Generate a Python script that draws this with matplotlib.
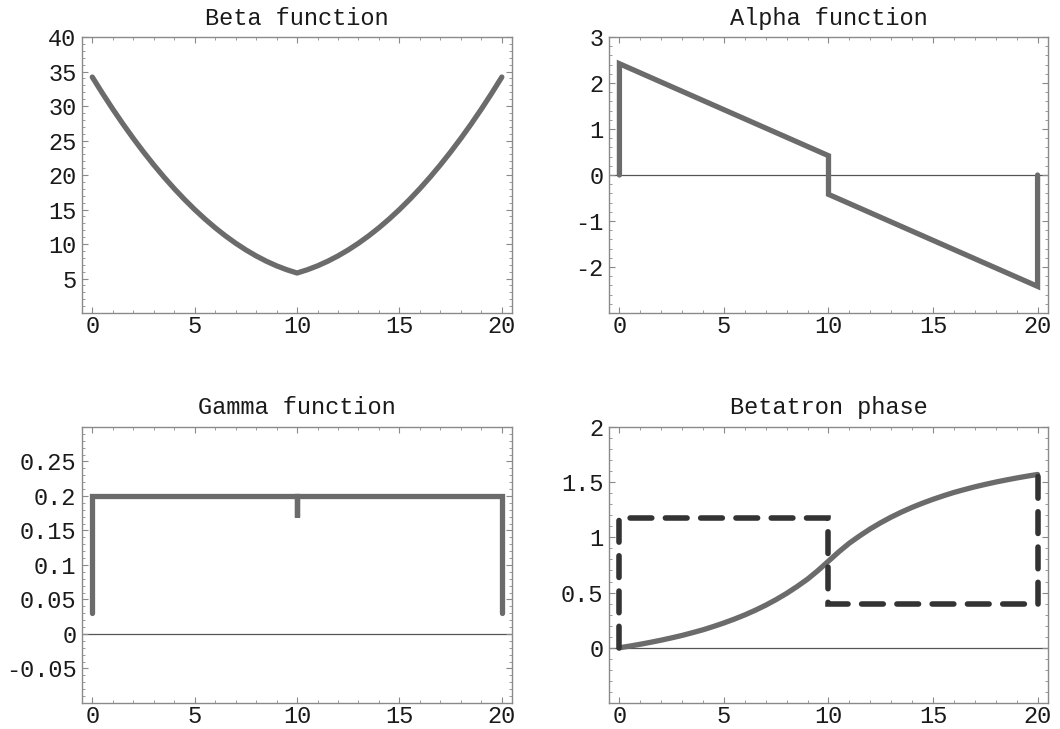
import numpy as np
import matplotlib.pyplot as plt
from matplotlib.ticker import MultipleLocator

plt.rcParams['font.family'] = ['Liberation Mono', 'DejaVu Sans Mono']
plt.rcParams['axes.unicode_minus'] = False

# lattice position (m), half metre steps
s = np.arange(0, 20.5, 0.5)

# beta function
beta = [34.2, 31.83, 29.56, 27.39, 25.32, 23.35, 21.48, 19.71, 18.04, 16.47,
        15.0, 13.63, 12.36, 11.19, 10.12, 9.15, 8.28, 7.51, 6.84, 6.27,
        5.8,
        6.27, 6.84, 7.51, 8.28, 9.15, 10.12, 11.19, 12.36, 13.63, 15.0,
        16.47, 18.04, 19.71, 21.48, 23.35, 25.32, 27.39, 29.56, 31.83, 34.2]

# alpha function (jumps at the thin lenses)
s_alpha = [0, 0, 10, 10, 20, 20]
alpha = [0, 2.42, 0.42, -0.42, -2.42, 0]

# gamma function
s_gamma = [0, 0, 10, 10, 10, 20, 20]
gamma = [0.03, 0.2, 0.2, 0.17, 0.2, 0.2, 0.03]

# betatron phase, smooth and stepped
phase = [0, 0.0155, 0.032, 0.050, 0.069, 0.090, 0.112, 0.137, 0.163, 0.193,
         0.225, 0.260, 0.298, 0.340, 0.386, 0.437, 0.493, 0.555, 0.622, 0.700,
         0.785,
         0.870, 0.948, 1.015, 1.077, 1.133, 1.184, 1.230, 1.272, 1.310, 1.345,
         1.377, 1.407, 1.433, 1.458, 1.480, 1.501, 1.520, 1.538, 1.5545, 1.57]
s_step = [0, 0, 10, 10, 20, 20]
phase_step = [0, 1.18, 1.18, 0.40, 0.40, 1.57]

x_ticks = [0, 5, 10, 15, 20]

line_col = '#6b6b6b'
dash_col = '#333333'
frame_col = '#8a8a8a'
fs = 17

fig = plt.figure(figsize=(10.6, 7.29), dpi=100)
ax1 = fig.add_axes([0.0774, 0.5706, 0.4057, 0.3786])
ax2 = fig.add_axes([0.5745, 0.5706, 0.4142, 0.3786])
ax3 = fig.add_axes([0.0774, 0.0357, 0.4057, 0.3786])
ax4 = fig.add_axes([0.5745, 0.0357, 0.4142, 0.3786])


def style(ax, title, ylim, yticks, ylabels, yminor):
    ax.set_xlim(-0.5, 20.5)
    ax.set_ylim(*ylim)
    ax.set_xticks(x_ticks)
    ax.set_xticklabels([str(t) for t in x_ticks])
    ax.set_yticks(yticks)
    ax.set_yticklabels(ylabels)
    ax.xaxis.set_minor_locator(MultipleLocator(1))
    ax.yaxis.set_minor_locator(MultipleLocator(yminor))
    ax.tick_params(which='both', direction='in', top=True, right=True,
                   color=frame_col, labelsize=fs, labelcolor='#1a1a1a')
    ax.tick_params(which='major', length=4, width=0.8, pad=4)
    ax.tick_params(axis='x', which='major', pad=1.5)
    ax.tick_params(which='minor', length=2.5, width=0.6)
    for sp in ax.spines.values():
        sp.set_color(frame_col)
        sp.set_linewidth(1.0)
    ax.set_title(title, fontsize=fs, pad=9, color='#1a1a1a')


lw = 3.8
ax1.plot(s, beta, color=line_col, lw=lw, solid_capstyle='round')
style(ax1, 'Beta function', (0, 40), [5, 10, 15, 20, 25, 30, 35, 40],
      ['5', '10', '15', '20', '25', '30', '35', '40'], 1)

ax2.axhline(0, color='#555555', lw=0.9, zorder=1)
ax2.plot(s_alpha, alpha, color=line_col, lw=lw, solid_capstyle='round',
         solid_joinstyle='miter')
style(ax2, 'Alpha function', (-3, 3), [-2, -1, 0, 1, 2, 3],
      ['-2', '-1', '0', '1', '2', '3'], 0.2)

ax3.axhline(0, color='#555555', lw=0.9, zorder=1)
ax3.plot(s_gamma, gamma, color=line_col, lw=lw, solid_capstyle='round',
         solid_joinstyle='miter')
style(ax3, 'Gamma function', (-0.1, 0.3), [-0.05, 0, 0.05, 0.1, 0.15, 0.2, 0.25],
      ['-0.05', '0', '0.05', '0.1', '0.15', '0.2', '0.25'], 0.01)

ax4.axhline(0, color='#555555', lw=0.9, zorder=1)
ax4.plot(s, phase, color=line_col, lw=lw, solid_capstyle='round')
ax4.plot(s_step, phase_step, color=dash_col, lw=4.0, dashes=(3.9, 2.45),
         dash_capstyle='round', dash_joinstyle='miter')
style(ax4, 'Betatron phase', (-0.5, 2), [0, 0.5, 1, 1.5, 2],
      ['0', '0.5', '1', '1.5', '2'], 0.1)

fig.savefig('out.png', dpi=100)
